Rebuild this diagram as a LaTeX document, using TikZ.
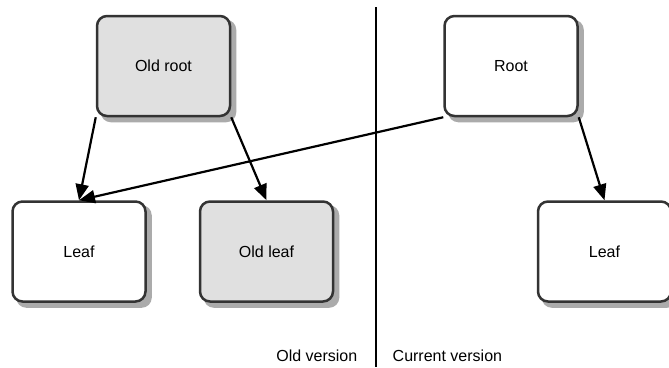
\documentclass[tikz,border=0pt]{standalone}
\usepackage{fontspec}
\setmainfont{Liberation Sans}
\usepackage{xcolor}
\usepackage{tikz}
\usetikzlibrary{arrows.meta,backgrounds}
\definecolor{BoxLine}{HTML}{333333}
\definecolor{BoxOld}{HTML}{E0E0E0}
\definecolor{BoxShadow}{HTML}{ABABAB}

\begin{document}
\begin{tikzpicture}[x=1pt,y=-1pt,font=\fontsize{16}{19}\selectfont,
  block/.style={draw=BoxLine,line width=2.5pt,rounded corners=10pt,fill=white,
    minimum width=133pt,minimum height=100pt},
  oldblock/.style={block,fill=BoxOld},
  link/.style={line width=2.2pt,-{Triangle[length=16pt,width=13pt]}}]
  \useasboundingbox (0,0) rectangle (669,367);

  % Old version
  \node[oldblock] (oldroot) at (163.5,66) {Old root};
  \node[block] (leafA) at (79,251.5) {Leaf};
  \node[oldblock] (oldleaf) at (266.5,251.5) {Old leaf};

  % Current version
  \node[block] (root) at (511,66) {Root};
  \node[block] (leafC) at (604.5,251.5) {Leaf};

  % Shadows
  \begin{scope}[on background layer]
    \foreach \b in {oldroot,leafA,oldleaf,root,leafC}
      \fill[BoxShadow,rounded corners=10pt]
        ([shift={(5,5)}]\b.north west) rectangle ([shift={(5,5)}]\b.south east);
  \end{scope}

  % Links
  \draw[link] (oldroot.south west) -- (leafA.north);
  \draw[link] (oldroot.south east) -- (oldleaf.north);
  \draw[link] (root.south west) -- (leafA.north);
  \draw[link] (root.south east) -- (leafC.north);

  % Divider
  \coordinate (divtop) at (376,7);
  \coordinate (divbot) at (376,367);
  \draw[line width=2.2pt] (divtop) -- (divbot);

  \node[anchor=base east,inner sep=0pt] (oldver) at (357.5,361) {Old version};
  \node[anchor=base west,inner sep=0pt] (curver) at (392.5,361) {Current version};
\end{tikzpicture}
\end{document}
